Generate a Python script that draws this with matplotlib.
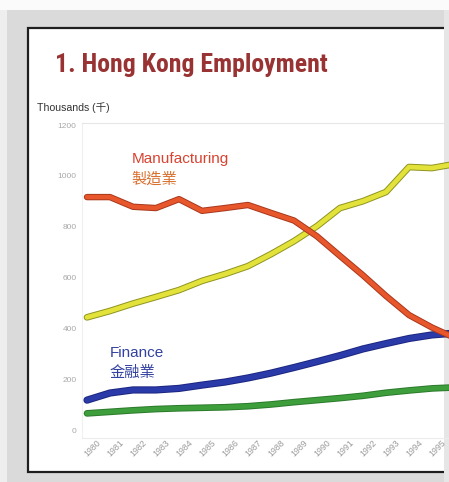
import matplotlib
matplotlib.use("Agg")
import matplotlib.pyplot as plt
import matplotlib.patheffects as pe
from matplotlib.patches import Rectangle
from matplotlib.transforms import ScaledTranslation
from matplotlib import font_manager as fm

# ---- data (thousands of persons) ----
years = [1980, 1981, 1982, 1983, 1984, 1985, 1986, 1987, 1988, 1989, 1990,
         1991, 1992, 1993, 1994, 1995, 1996]
manufacturing = [917, 917, 879, 874, 909, 863, 874, 886, 855, 825, 763,
                 686, 610, 529, 454, 405, 364]
services = [445, 470, 499, 525, 552, 588, 615, 646, 693, 744, 803,
            874, 901, 937, 1035, 1031, 1047]
finance = [120, 148, 160, 160, 166, 179, 191, 207, 226, 248, 271,
           295, 321, 342, 362, 376, 383]
other = [68, 74, 80, 85, 88, 90, 92, 96, 103, 112, 120,
         128, 137, 149, 158, 166, 170]
tick_years = list(range(1980, 1996))
y_ticks = [0, 200, 400, 600, 800, 1000, 1200]

available = {f.name for f in fm.fontManager.ttflist}
title_family = [f for f in ["Roboto Condensed", "Archivo Narrow", "Oswald", "Roboto"]
                if f in available] or ["DejaVu Sans"]

W, H = 449, 482
fig = plt.figure(figsize=(W / 100, H / 100), dpi=100)
fig.patch.set_facecolor("#dadada")


def fx(x):
    return x / W


def fy(y):
    return 1 - y / H


def rect(x0, y0, x1, y1, **kw):
    fig.patches.append(Rectangle((fx(x0), fy(y1)), fx(x1) - fx(x0), fy(y0) - fy(y1),
                                 transform=fig.transFigure, figure=fig, **kw))


# scan background
rect(0, 0, W, 10, facecolor="#fbfbfb", edgecolor="none", zorder=-5)
rect(0, 10, 7, H, facecolor="#eeeeee", edgecolor="none", zorder=-5)
# white panel with dark border
rect(28, 27.5, 470, 472, facecolor="white", edgecolor="#1e1e1e", linewidth=1.6, zorder=-4)
# light strip at right edge
rect(444, 10, W, H, facecolor="#e6e6e6", edgecolor="none", zorder=-3)

# title
fig.text(fx(55), fy(72), "1. Hong Kong Employment",
         family=title_family[:1] + ["DejaVu Sans"],
         fontweight="heavy", fontsize=18.5, color="#993333", ha="left", va="baseline")
fig.text(fx(37), fy(111), "Thousands (千)",
         family=["Liberation Sans", "Noto Sans CJK SC"], fontsize=7.6,
         color="#333333", ha="left", va="baseline")

# axes: 0 at y=430.7 px, 1200 at y=125 px ; 1980 at x=87, 23 px per year
left_px, right_px, top_px, bot_px = 82, 449, 123, 438
ax = fig.add_axes([fx(left_px), fy(bot_px), fx(right_px) - fx(left_px), fy(top_px) - fy(bot_px)])
ax.set_facecolor("none")
ppu = (430.7 - 125) / 1200.0
ax.set_ylim(-(bot_px - 430.7) / ppu, 1200 + (125 - top_px) / ppu)
ax.set_xlim(1980 - (87 - left_px) / 23.0, 1980 + (right_px - 87) / 23.0)


def draw(vals, color, edge, lw):
    ax.plot(years, vals, color=color, linewidth=lw, solid_capstyle="round",
            solid_joinstyle="round",
            path_effects=[pe.Stroke(linewidth=lw + 1.4, foreground=edge), pe.Normal()])


draw(other, "#3d9e3b", "#2c7a2c", 3.4)
draw(finance, "#2a3aa8", "#1c2680", 3.8)
draw(services, "#e2e23a", "#8e9420", 3.4)
draw(manufacturing, "#e8572b", "#a8381d", 3.2)

ax.text(1980 + (131.7 - 87) / 23.0, 1200 - (163.3 - 125) / ppu, "Manufacturing",
        family=["Liberation Sans", "Noto Sans CJK SC"], fontsize=11, color="#d94330",
        ha="left", va="baseline")
ax.text(1980 + (131.7 - 87) / 23.0, 1200 - (184 - 125) / ppu, "製造業",
        family=["Noto Sans CJK TC", "DejaVu Sans"], fontsize=11, color="#d9702e",
        ha="left", va="baseline")
ax.text(1980 + (109.3 - 87) / 23.0, 1200 - (356.7 - 125) / ppu, "Finance",
        family=["Liberation Sans", "Noto Sans CJK SC"], fontsize=11, color="#3342a0",
        ha="left", va="baseline")
ax.text(1980 + (109.3 - 87) / 23.0, 1200 - (377 - 125) / ppu, "金融業",
        family=["Noto Sans CJK TC", "DejaVu Sans"], fontsize=11, color="#3342a0",
        ha="left", va="baseline")

ax.set_yticks(y_ticks)
ax.set_yticklabels([str(v) for v in y_ticks], family="Liberation Sans",
                   fontsize=6, color="#a8a8a8")
ax.set_xticks(tick_years)
ax.set_xticklabels([str(y) for y in tick_years], family="Liberation Sans",
                   fontsize=6.3, color="#9a9a9a", rotation=45, ha="right", va="top",
                   rotation_mode="anchor")
ax.tick_params(axis="both", length=0)
ax.tick_params(axis="y", pad=4)
ax.tick_params(axis="x", pad=0)
off = ScaledTranslation(9 / 100, 0, fig.dpi_scale_trans)
for lbl in ax.get_xticklabels():
    lbl.set_transform(lbl.get_transform() + off)

ax.spines["right"].set_visible(False)
ax.spines["top"].set_color("#e6e6e6")
ax.spines["bottom"].set_color("#ececec")
ax.spines["left"].set_color("#f0f0f0")
for s in ["top", "bottom", "left"]:
    ax.spines[s].set_linewidth(0.8)

fig.savefig("out.png", dpi=100)
